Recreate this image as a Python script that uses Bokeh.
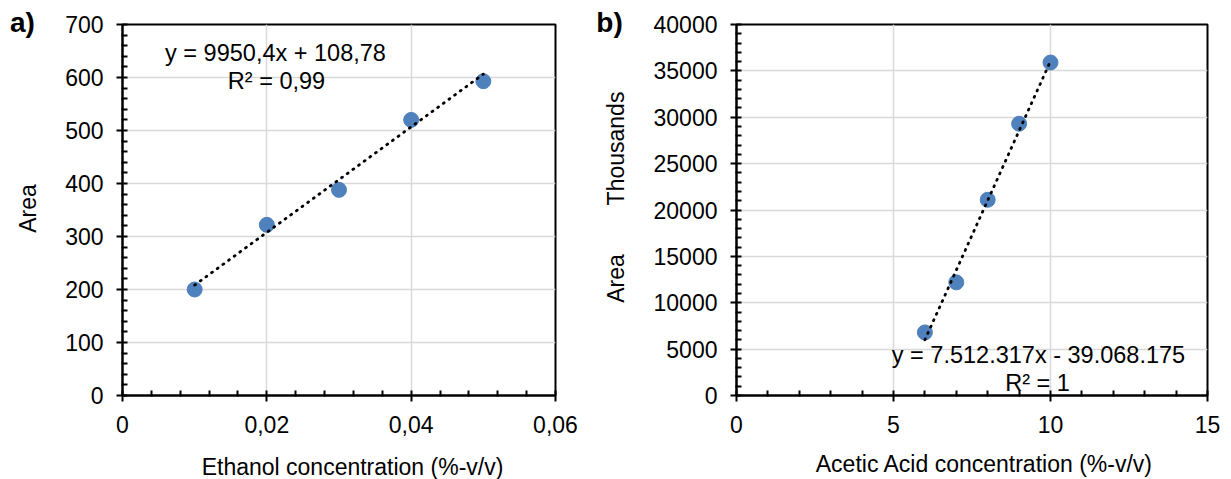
import numpy as np
from bokeh.plotting import figure
from bokeh.models import Range1d, FixedTicker, Label
from bokeh.layouts import row
from bokeh.embed import file_html
from bokeh.resources import INLINE

# ---------------- data: panel a (ethanol) ----------------
eth_conc = [0.01, 0.02, 0.03, 0.04, 0.05]
eth_area = [200, 322, 388, 520, 593]
eth_slope = 9950.4
eth_intercept = 108.78
eth_x_ticks = [0, 0.02, 0.04, 0.06]
eth_x_labels = ["0", "0,02", "0,04", "0,06"]
eth_y_ticks = [0, 100, 200, 300, 400, 500, 600, 700]
eth_y_labels = ["0", "100", "200", "300", "400", "500", "600", "700"]
eth_eq = "y = 9950,4x + 108,78"
eth_r2 = "R\u00b2 = 0,99"
eth_xlabel = "Ethanol concentration (%-v/v)"
eth_ylabel = "Area"

# ---------------- data: panel b (acetic acid), area in thousands ----------------
acid_conc = [6, 7, 8, 9, 10]
acid_area = [6800, 12200, 21100, 29300, 35900]
acid_slope = 7512.317
acid_intercept = -39068.175
acid_x_ticks = [0, 5, 10, 15]
acid_x_labels = ["0", "5", "10", "15"]
acid_y_ticks = [0, 5000, 10000, 15000, 20000, 25000, 30000, 35000, 40000]
acid_y_labels = ["0", "5000", "10000", "15000", "20000", "25000", "30000", "35000", "40000"]
acid_eq = "y = 7.512.317x - 39.068.175"
acid_r2 = "R\u00b2 = 1"
acid_xlabel = "Acetic Acid concentration (%-v/v)"
acid_ylabel = "Area"
acid_units = "Thousands"

FONT = "Liberation Sans"
BLUE = "#4f81bd"
GRID = "#d9d9d9"
FS = "23px"
EQ_FS = "23.5px"
TAG_FS = "28px"
H = 479
TOP, BOTTOM = 24, 395  # frame top / bottom in page pixels
SPLIT = 645            # page x where the second figure starts


def minor_of(ticks, n=5):
    out = []
    for a, b in zip(ticks[:-1], ticks[1:]):
        out.extend(list(np.linspace(a, b, n + 1)[1:-1]))
    return out


def make_panel(xs, ys, slope, intercept, xt, xl, yt, yl, fig_left, frame_l, frame_r, width):
    p = figure(width=width, height=H, output_backend="svg", toolbar_location=None,
               x_range=Range1d(xt[0], xt[-1]), y_range=Range1d(yt[0], yt[-1]),
               min_border_left=frame_l - fig_left, min_border_right=fig_left + width - frame_r,
               min_border_top=TOP, min_border_bottom=H - BOTTOM)
    p.background_fill_color = "white"
    p.border_fill_color = "white"
    p.outline_line_color = "black"
    p.outline_line_width = 2

    p.xaxis.ticker = FixedTicker(ticks=xt, minor_ticks=minor_of(xt))
    p.yaxis.ticker = FixedTicker(ticks=yt, minor_ticks=minor_of(yt))
    p.xaxis.major_label_overrides = {t: s for t, s in zip(xt, xl)}
    p.yaxis.major_label_overrides = {t: s for t, s in zip(yt, yl)}

    for ax in (p.xaxis, p.yaxis):
        ax.axis_line_color = "black"
        ax.axis_line_width = 2
        ax.major_tick_line_color = "black"
        ax.major_tick_line_width = 2
        ax.major_tick_in = 5
        ax.major_tick_out = 6
        ax.minor_tick_line_color = "black"
        ax.minor_tick_line_width = 2
        ax.minor_tick_in = 5
        ax.minor_tick_out = 1
        ax.major_label_text_font = FONT
        ax.major_label_text_font_size = FS
        ax.major_label_text_color = "black"
    p.xaxis.major_label_standoff = 14
    p.yaxis.major_label_standoff = 13

    p.xgrid.grid_line_color = GRID
    p.ygrid.grid_line_color = GRID
    p.xgrid.grid_line_width = 1.5
    p.ygrid.grid_line_width = 1.5

    p.scatter(xs, ys, size=15, fill_color=BLUE, line_color=BLUE)

    tx = np.array([min(xs), max(xs)])
    ty = slope * tx + intercept
    p.line(tx, ty, line_color="black", line_width=2.8, line_dash="1 6",
           line_cap="round")

    x0, x1, y0, y1 = xt[0], xt[-1], yt[0], yt[-1]

    def lab(text, px, py, place=None, angle=0.0, size=FS, bold=False):
        # px, py: desired text centre in page pixels, converted to data units
        dx = x0 + (px - frame_l) / (frame_r - frame_l) * (x1 - x0)
        dy = y0 + (BOTTOM - py) / (BOTTOM - TOP) * (y1 - y0)
        lb = Label(x=dx, y=dy, text=text, angle=angle, text_align="center",
                   text_baseline="middle", text_font=FONT, text_font_size=size,
                   text_font_style="bold" if bold else "normal", text_color="black")
        if place is None:
            p.add_layout(lb)
        else:
            p.add_layout(lb, place)

    return p, lab


pa, la = make_panel(eth_conc, eth_area, eth_slope, eth_intercept,
                    eth_x_ticks, eth_x_labels, eth_y_ticks, eth_y_labels,
                    fig_left=0, frame_l=122, frame_r=555, width=SPLIT)
pb, lb = make_panel(acid_conc, acid_area, acid_slope, acid_intercept,
                    acid_x_ticks, acid_x_labels, acid_y_ticks, acid_y_labels,
                    fig_left=SPLIT, frame_l=736, frame_r=1207, width=1231 - SPLIT)

# panel a texts
la(eth_eq, 275, 52, size=EQ_FS)
la(eth_r2, 276, 80, size=EQ_FS)
la(eth_xlabel, 352, 466, place="below")
la(eth_ylabel, 27, 208, place="left", angle=np.pi / 2)
la("a)", 22, 22, place="left", size=TAG_FS, bold=True)

# panel b texts (its title tag and y-axis title sit on the canvas strip left of its axis)
lb(acid_eq, 1038, 354, size=EQ_FS)
lb(acid_r2, 1037, 382, size=EQ_FS)
lb(acid_xlabel, 984, 463, place="below")
la("b)", 609, 22, place="right", size=TAG_FS, bold=True)
la(acid_units, 615, 148, place="right", angle=np.pi / 2)
la(acid_ylabel, 615, 278, place="right", angle=np.pi / 2)

layout = row(pa, pb)
open("out.html", "w").write(file_html(layout, INLINE))
